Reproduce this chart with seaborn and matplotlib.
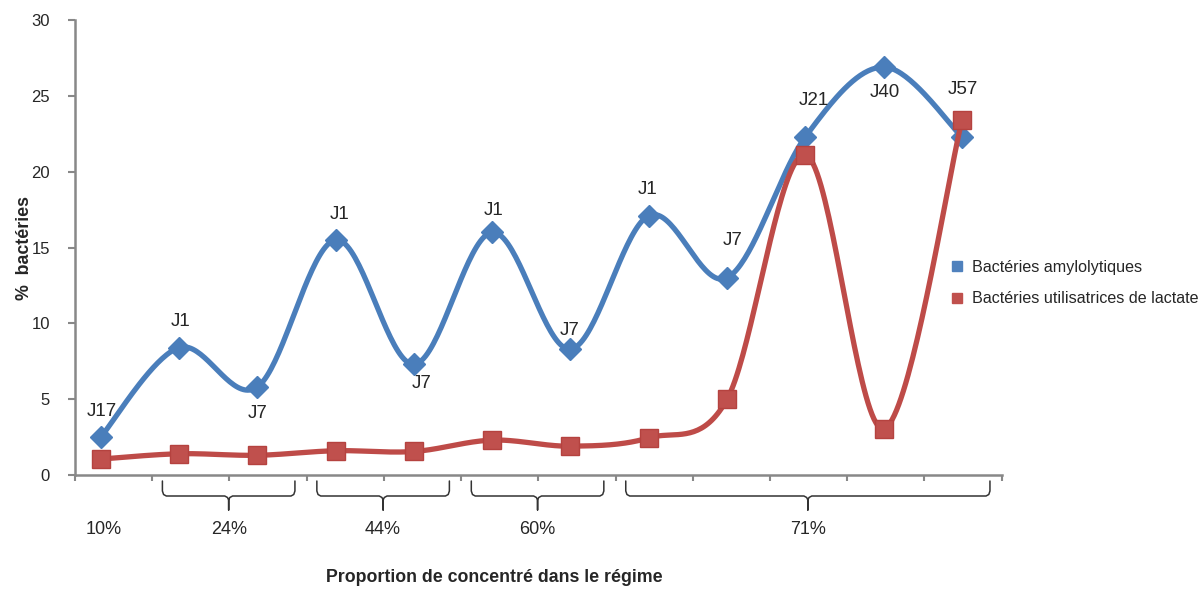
import numpy as np
import pandas as pd
import matplotlib
matplotlib.use("Agg")
import matplotlib.pyplot as plt
import matplotlib.transforms as mtransforms
from matplotlib.lines import Line2D
from matplotlib import font_manager
import seaborn as sns

# ---------------- data ----------------
categories = ["10%", "24%", "24%", "44%", "44%", "60%", "60%", "71%", "71%", "71%", "71%", "71%"]
amylolytiques = [2.5, 8.4, 5.8, 15.5, 7.3, 16.0, 8.3, 17.1, 13.0, 22.3, 26.9, 22.3]
lactate = [1.05, 1.4, 1.3, 1.6, 1.55, 2.3, 1.9, 2.45, 5.0, 21.1, 3.05, 23.4]
point_labels = ["J17", "J1", "J7", "J1", "J7", "J1", "J7", "J1", "J7", "J21", "J40", "J57"]
group_labels = ["10%", "24%", "44%", "60%", "71%"]
series_names = ["Bactéries amylolytiques", "Bactéries utilisatrices de lactate"]
y_ticks = [0, 5, 10, 15, 20, 25, 30]

# ---------------- style ----------------
sns.set_theme(style="white")
names = {f.name for f in font_manager.fontManager.ttflist}
fam = [f for f in ["Liberation Sans", "DejaVu Sans"] if f in names]
plt.rcParams["font.family"] = fam

BLUE = "#4A7EBB"
RED = "#BE4B48"
AXC = "#888888"
TXT = "#262626"

W, H = 1198, 589
fig = plt.figure(figsize=(W / 100, H / 100), dpi=100)
fig.patch.set_facecolor("white")
ax = fig.add_axes([75 / W, 1 - 475 / H, (1001.7 - 75) / W, (475 - 20) / H])

x = np.arange(len(amylolytiques))


def catmull(xv, yv, n=40):
    xv = np.asarray(xv, float)
    yv = np.asarray(yv, float)
    P = np.column_stack([xv, yv])
    P = np.vstack([P[0], P, P[-1]])
    out = []
    for i in range(1, len(P) - 2):
        p0, p1, p2, p3 = P[i - 1], P[i], P[i + 1], P[i + 2]
        c1 = p1 + (p2 - p0) / 6.0
        c2 = p2 - (p3 - p1) / 6.0
        t = np.linspace(0, 1, n, endpoint=(i == len(P) - 3))[:, None]
        seg = ((1 - t) ** 3) * p1 + 3 * ((1 - t) ** 2) * t * c1 + 3 * (1 - t) * t ** 2 * c2 + t ** 3 * p2
        out.append(seg)
    out = np.vstack(out)
    return out[:, 0], out[:, 1]


bx, by = catmull(x, amylolytiques)
rx, ry = catmull(x, lactate)

sns.lineplot(x=bx, y=by, ax=ax, color=BLUE, lw=3.8, sort=False, estimator=None, zorder=3)
ax.plot(x, amylolytiques, linestyle="none", marker="D", markersize=11,
        markerfacecolor=BLUE, markeredgecolor=BLUE, zorder=4)
sns.lineplot(x=rx, y=ry, ax=ax, color=RED, lw=3.8, sort=False, estimator=None, zorder=5)
ax.plot(x, lactate, linestyle="none", marker="s", markersize=12.5,
        markerfacecolor="#C0504D", markeredgecolor="#B5423F", markeredgewidth=1, zorder=6)

# axes limits / ticks
x0, x1 = -0.328, 11.507
ax.set_xlim(x0, x1)
ax.set_ylim(0, 30)
bounds = np.linspace(x0, x1, 13)
ax.set_xticks(bounds)
ax.set_xticklabels([])
ax.set_yticks(y_ticks)
ax.set_yticklabels([str(v) for v in y_ticks], fontsize=12, color=TXT)
ax.tick_params(axis="y", direction="out", length=5, width=1.5, color=AXC, pad=13, left=True)
ax.tick_params(axis="x", direction="out", length=4.5, width=1.5, color=AXC, bottom=True)
for s in ["top", "right"]:
    ax.spines[s].set_visible(False)
for s in ["left", "bottom"]:
    ax.spines[s].set_color(AXC)
    ax.spines[s].set_linewidth(1.8)
ax.grid(False)
ax.set_xlabel("")
ax.set_ylabel("%  bactéries", fontsize=12.8, fontweight="bold", color=TXT)
ax.yaxis.set_label_coords(-0.045, 0.5)

# point labels
offsets = [(1, 26), (2, 26), (0, -26), (4, 25), (8, -19), (1, 22), (-1, 19), (-1, 26),
           (6, 37), (8, 36), (1, -25), (1, 47)]
for i, (lab, (dx, dy)) in enumerate(zip(point_labels, offsets)):
    ax.annotate(lab, (x[i], amylolytiques[i]), xytext=(dx, dy), textcoords="offset pixels",
                ha="center", va="center", fontsize=13.5, color=TXT, zorder=7)

# braces and group labels
tr = mtransforms.blended_transform_factory(ax.transData, fig.transFigure)


def fy(px):
    return 1 - px / H


spans = [(1, 3), (3, 5), (5, 7), (7, 12)]
for a, b in spans:
    xa = bounds[a] + 0.13
    xb = bounds[b] - 0.15
    xc = (xa + xb) / 2
    pts = [(xa, 481), (xa, 491), (xa + 0.015, 494.5), (xa + 0.05, 496), (xc - 0.05, 496),
           (xc - 0.015, 497.5), (xc, 500), (xc, 510), (xc, 500), (xc + 0.015, 497.5),
           (xc + 0.05, 496), (xb - 0.05, 496), (xb - 0.015, 494.5), (xb, 491), (xb, 481)]
    ax.add_line(Line2D([p[0] for p in pts], [fy(p[1]) for p in pts], transform=tr,
                       color="#333333", lw=1.1, clip_on=False, solid_joinstyle="round"))

label_x = [0.04] + [(bounds[a] + 0.13 + bounds[b] - 0.15) / 2 for a, b in spans]
for lx, lab in zip(label_x, group_labels):
    ax.text(lx, fy(530), lab, transform=tr, ha="center", va="center", fontsize=13,
            color=TXT, clip_on=False)

fig.text(494.5 / W, fy(578), "Proportion de concentré dans le régime", ha="center",
         va="center", fontsize=12.8, fontweight="bold", color=TXT)

# legend
handles = [Line2D([], [], linestyle="none", marker="s", markersize=6.5, color="#4F81BD"),
           Line2D([], [], linestyle="none", marker="s", markersize=6.5, color="#C0504D")]
fig.legend(handles, series_names, loc="center left", bbox_to_anchor=(949.8 / W, fy(283)),
           frameon=False, fontsize=11.6, handlelength=0.9, handletextpad=0.45,
           labelspacing=1.05, borderpad=0, borderaxespad=0, labelcolor=TXT)

fig.savefig("out.png", dpi=100, facecolor="white")
